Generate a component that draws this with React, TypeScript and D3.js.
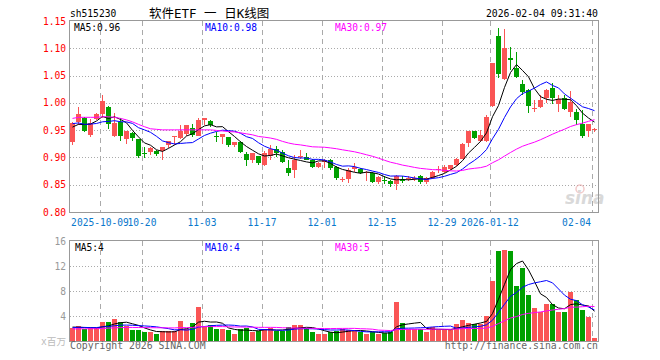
import React from 'react';
import * as d3 from 'd3';

// ---- data ----
const opens = [0.929,0.965,0.972,0.942,0.971,0.980,0.993,0.940,0.965,0.933,0.944,0.933,0.909,0.910,0.912,0.912,0.922,0.938,0.936,0.943,0.954,0.940,0.969,0.966,0.940,0.937,0.938,0.922,0.928,0.907,0.895,0.902,0.886,0.902,0.916,0.910,0.881,0.877,0.902,0.900,0.896,0.883,0.892,0.896,0.883,0.860,0.861,0.878,0.878,0.871,0.871,0.855,0.859,0.857,0.852,0.859,0.861,0.861,0.866,0.855,0.863,0.878,0.874,0.879,0.886,0.898,0.927,0.949,0.930,0.930,0.995,1.123,1.044,1.083,1.063,1.034,1.024,0.990,0.993,1.008,1.028,0.997,1.008,0.984,0.984,0.962,0.948,0.951];
const highs = [0.965,0.993,0.974,0.971,0.982,1.015,0.995,0.982,0.973,0.949,0.946,0.934,0.919,0.920,0.914,0.920,0.931,0.940,0.960,0.959,0.962,0.972,0.973,0.968,0.946,0.943,0.938,0.929,0.931,0.910,0.909,0.902,0.911,0.923,0.921,0.913,0.895,0.904,0.913,0.909,0.898,0.892,0.898,0.898,0.884,0.865,0.880,0.889,0.880,0.876,0.873,0.866,0.866,0.859,0.868,0.866,0.866,0.866,0.868,0.864,0.876,0.885,0.886,0.887,0.899,0.927,0.949,0.949,0.950,0.978,1.073,1.138,1.135,1.103,1.093,1.042,1.026,1.006,1.014,1.026,1.036,1.014,1.014,1.022,0.989,0.987,0.962,0.954];
const lows = [0.922,0.960,0.946,0.938,0.968,0.972,0.952,0.937,0.930,0.924,0.931,0.899,0.899,0.905,0.903,0.895,0.918,0.923,0.933,0.939,0.937,0.939,0.960,0.956,0.928,0.925,0.919,0.920,0.908,0.885,0.890,0.886,0.884,0.895,0.901,0.890,0.866,0.863,0.898,0.895,0.880,0.880,0.881,0.877,0.858,0.855,0.854,0.874,0.870,0.857,0.853,0.852,0.852,0.846,0.841,0.853,0.856,0.857,0.852,0.851,0.861,0.871,0.871,0.877,0.885,0.897,0.920,0.934,0.929,0.929,0.993,1.045,1.042,1.060,1.045,1.014,0.982,0.983,0.991,0.999,0.997,0.983,0.986,0.975,0.960,0.936,0.938,0.947];
const closes = [0.963,0.980,0.948,0.963,0.980,1.004,0.962,0.963,0.939,0.949,0.935,0.902,0.908,0.918,0.907,0.920,0.930,0.939,0.948,0.959,0.941,0.968,0.973,0.959,0.939,0.943,0.922,0.929,0.910,0.896,0.909,0.889,0.909,0.915,0.909,0.892,0.872,0.896,0.903,0.896,0.883,0.890,0.896,0.880,0.863,0.861,0.877,0.883,0.871,0.874,0.855,0.865,0.858,0.851,0.866,0.858,0.862,0.863,0.855,0.863,0.874,0.879,0.883,0.886,0.897,0.925,0.949,0.935,0.941,0.975,1.073,1.052,1.100,1.078,1.048,1.019,0.994,0.991,1.005,1.024,1.008,1.007,0.989,1.001,0.969,0.940,0.962,0.952];
const volumes = [2.03,2.4,1.92,2.03,2.03,3.04,3.04,3.52,3.0,2.45,1.76,1.76,1.5,1.39,1.17,1.6,1.6,1.6,3.2,1.87,2.93,5.5,2.3,2.56,1.92,1.92,1.76,1.12,1.92,2.03,1.5,1.6,1.92,2.03,1.65,1.6,2.19,2.56,2.56,2.03,1.39,1.12,1.12,1.39,1.6,1.92,1.76,1.65,1.5,1.17,1.39,1.17,1.23,1.39,6.24,2.93,1.87,1.87,1.92,1.5,2.3,1.76,1.76,1.76,2.7,3.36,2.93,2.7,2.7,3.95,9.65,14.45,14.6,14.45,8.8,11.7,7.36,5.28,4.59,5.92,5.92,4.69,4.69,7.9,6.56,4.96,3.89,0.53];
// closes / volumes of the 29 sessions before the window (estimated, used only for moving averages)
const prevCloses = [0.920,0.948,0.963,0.980,0.974,0.962,0.993,0.999,1.030,1.045,1.040,1.035,1.032,0.937,0.950,0.930,0.939,0.948,0.959,0.941,0.968,0.973,0.959,0.969,0.973,0.955,0.950,0.958,0.952];
const prevVolumes = [1.7,1.9,1.6,2.1,1.8,1.5,1.9,2.0,1.7,1.6,2.2,1.8,1.9,1.5,1.7,2.0,1.8,1.6,2.3,1.9,1.7,2.1,2.4,1.9,2.0,2.5,2.2,2.1,2.3];

const tickIndex = [5, 12, 22, 32, 42, 52, 62, 70, 87];
const tickLabels = ['2025-10-09', '10-20', '11-03', '11-17', '12-01', '12-15', '12-29', '2026-01-12', '02-04'];
const priceTicks = [1.15, 1.10, 1.05, 1.00, 0.95, 0.90, 0.85, 0.80];
const volTicks = [16, 12, 8, 4];
const maPeriods = [5, 10, 30];
const maColors = ['#000000', '#0000ff', '#ff00ff'];
const priceMaLabels = ['MA5:0.96', 'MA10:0.98', 'MA30:0.97'];
const volMaLabels = ['MA5:4', 'MA10:4', 'MA30:5'];

const RED = '#fa5555';
const GREEN = '#00a000';
const MONO = '"DejaVu Sans Mono", "Liberation Mono", monospace';

function movingAverage(prev: number[], vals: number[], p: number): number[] {
  const all = prev.concat(vals);
  const off = prev.length;
  return vals.map((_, i) => d3.mean(all.slice(off + i - p + 1, off + i + 1)) as number);
}

export default function App() {
  const n = closes.length;
  const left = 70, right = 598;
  const x = d3.scaleLinear().domain([0, n]).range([left, right]);
  const yP = d3.scaleLinear().domain([0.8, 1.15]).range([212, 21]);
  const yV = d3.scaleLinear().domain([0, 16]).range([341, 241]);
  const cx = (i: number) => x(i) + 2.5;
  const up = (i: number) => closes[i] >= opens[i];

  const priceMA = maPeriods.map((p) => movingAverage(prevCloses, closes, p));
  const volMA = maPeriods.map((p) => movingAverage(prevVolumes, volumes, p));
  const lineP = d3.line<number>().x((_, i) => cx(i)).y((d) => yP(d));
  const lineV = d3.line<number>().x((_, i) => cx(i)).y((d) => yV(d));

  const rd = (v: number) => Math.round(v) + 0.5;

  const tickLabelEls = tickIndex.map((ti, k) => {
    const tx = x(ti);
    const w = tickLabels[k].length * 5.78;
    let anchor: 'middle' | 'end' = 'middle';
    let px = tx;
    if (tx + w / 2 > right) { anchor = 'end'; px = tx - 1; }
    return (
      <text key={'tl' + k} x={px} y={226} textAnchor={anchor} fontSize={9.6} fill="#0a78cc" fontFamily={MONO}>
        {tickLabels[k]}
      </text>
    );
  });

  return (
    <svg width={660} height={360} style={{ position: 'absolute', left: 0, top: 0, background: '#fff' }}>
      {/* header */}
      <text x={70} y={17} fontSize={9.6} fontFamily={MONO} fill="#000">sh515230</text>
      <text x={149} y={18} fontSize={12.5} fontFamily={'"DejaVu Sans Mono", "Noto Sans CJK SC", sans-serif'} fill="#000">软件ETF 一 日K线图</text>
      <text x={598} y={17} fontSize={9.8} fontFamily={MONO} fill="#000" textAnchor="end">2026-02-04 09:31:40</text>

      {/* price panel grid */}
      <g shapeRendering="crispEdges">
        {priceTicks.slice(1, -1).map((t) => (
          <line key={'hp' + t} x1={left} x2={right} y1={rd(yP(t))} y2={rd(yP(t))} stroke="#aaa" strokeDasharray="1,2" />
        ))}
        {tickIndex.map((ti) => (
          <line key={'vp' + ti} x1={x(ti) + 0.5} x2={x(ti) + 0.5} y1={21} y2={212} stroke="#aaa" strokeDasharray="5,4" />
        ))}
        {priceTicks.slice(1, -1).map((t) => null)}
      </g>

      {/* price axis labels */}
      {priceTicks.map((t) => (
        <text key={'pl' + t} x={66} y={yP(t) + 3.5} textAnchor="end" fontSize={9.6} fontFamily={MONO} fill="#ff0000">
          {t.toFixed(2)}
        </text>
      ))}

      {/* candles */}
      <g shapeRendering="crispEdges">
        {closes.map((c, i) => {
          const col = up(i) ? RED : GREEN;
          const top = yP(Math.max(opens[i], c));
          const bot = yP(Math.min(opens[i], c));
          return (
            <g key={'c' + i}>
              <line x1={cx(i)} x2={cx(i)} y1={yP(highs[i])} y2={yP(lows[i])} stroke={col} />
              <rect x={x(i)} y={Math.round(top)} width={5} height={Math.max(1, Math.round(bot) - Math.round(top))} fill={col} />
            </g>
          );
        })}
      </g>

      {/* price MAs */}
      {priceMA.map((m, k) => (
        <path key={'pm' + k} d={lineP(m) as string} fill="none" stroke={maColors[k]} strokeWidth={1} />
      ))}

      {/* price MA labels */}
      <text x={74} y={31} fontSize={9.6} fontFamily={MONO} fill={maColors[0]}>{priceMaLabels[0]}</text>
      <text x={205} y={31} fontSize={9.6} fontFamily={MONO} fill={maColors[1]}>{priceMaLabels[1]}</text>
      <text x={335} y={31} fontSize={9.6} fontFamily={MONO} fill={maColors[2]}>{priceMaLabels[2]}</text>

      {/* watermark */}
      <g opacity={0.55}>
        <circle cx={580} cy={189} r={4} fill="none" stroke="#e9a0a0" strokeWidth={1.5} />
        <text x={565} y={204} fontSize={17} fontStyle="italic" fontWeight="bold" fontFamily="Verdana, 'DejaVu Sans', sans-serif" fill="#bbb">sina</text>
      </g>

      {/* price panel border */}
      <rect x={left - 0.5} y={20.5} width={right - left + 1} height={191.5} fill="none" stroke="#999" shapeRendering="crispEdges" />

      {/* date labels */}
      {tickLabelEls}

      {/* volume panel grid */}
      <g shapeRendering="crispEdges">
        {volTicks.slice(1).map((t) => (
          <line key={'hv' + t} x1={left} x2={right} y1={rd(yV(t))} y2={rd(yV(t))} stroke="#aaa" strokeDasharray="1,2" />
        ))}
        {tickIndex.map((ti) => (
          <line key={'vv' + ti} x1={x(ti) + 0.5} x2={x(ti) + 0.5} y1={241} y2={341} stroke="#aaa" strokeDasharray="5,4" />
        ))}
      </g>

      {/* volume bars */}
      <g shapeRendering="crispEdges">
        {volumes.map((v, i) => (
          <rect key={'v' + i} x={x(i)} y={Math.round(yV(v))} width={5} height={341 - Math.round(yV(v))} fill={up(i) ? RED : GREEN} />
        ))}
      </g>

      {/* volume MAs */}
      {volMA.map((m, k) => (
        <path key={'vm' + k} d={lineV(m) as string} fill="none" stroke={maColors[k]} strokeWidth={1} />
      ))}

      {/* volume border */}
      <rect x={left - 0.5} y={240.5} width={right - left + 1} height={100.5} fill="none" stroke="#999" shapeRendering="crispEdges" />

      {/* volume labels */}
      {volTicks.map((t) => (
        <text key={'vl' + t} x={66} y={yV(t) + 3.5} textAnchor="end" fontSize={9.6} fontFamily={MONO} fill="#999">{t}</text>
      ))}
      <text x={75} y={251} fontSize={9.6} fontFamily={MONO} fill={maColors[0]}>{volMaLabels[0]}</text>
      <text x={205} y={251} fontSize={9.6} fontFamily={MONO} fill={maColors[1]}>{volMaLabels[1]}</text>
      <text x={335} y={251} fontSize={9.6} fontFamily={MONO} fill={maColors[2]}>{volMaLabels[2]}</text>

      <text x={66} y={345} textAnchor="end" fontSize={9.6} fontFamily={'"DejaVu Sans Mono", "Noto Sans CJK SC", monospace'} fill="#bbb">x百万</text>
      <text x={70} y={349} fontSize={9.8} fontFamily={MONO} fill="#666">Copyright 2026 SINA.COM</text>
      <text x={598} y={349} textAnchor="end" fontSize={9.8} fontFamily={MONO} fill="#666">http://finance.sina.com.cn</text>
    </svg>
  );
}
